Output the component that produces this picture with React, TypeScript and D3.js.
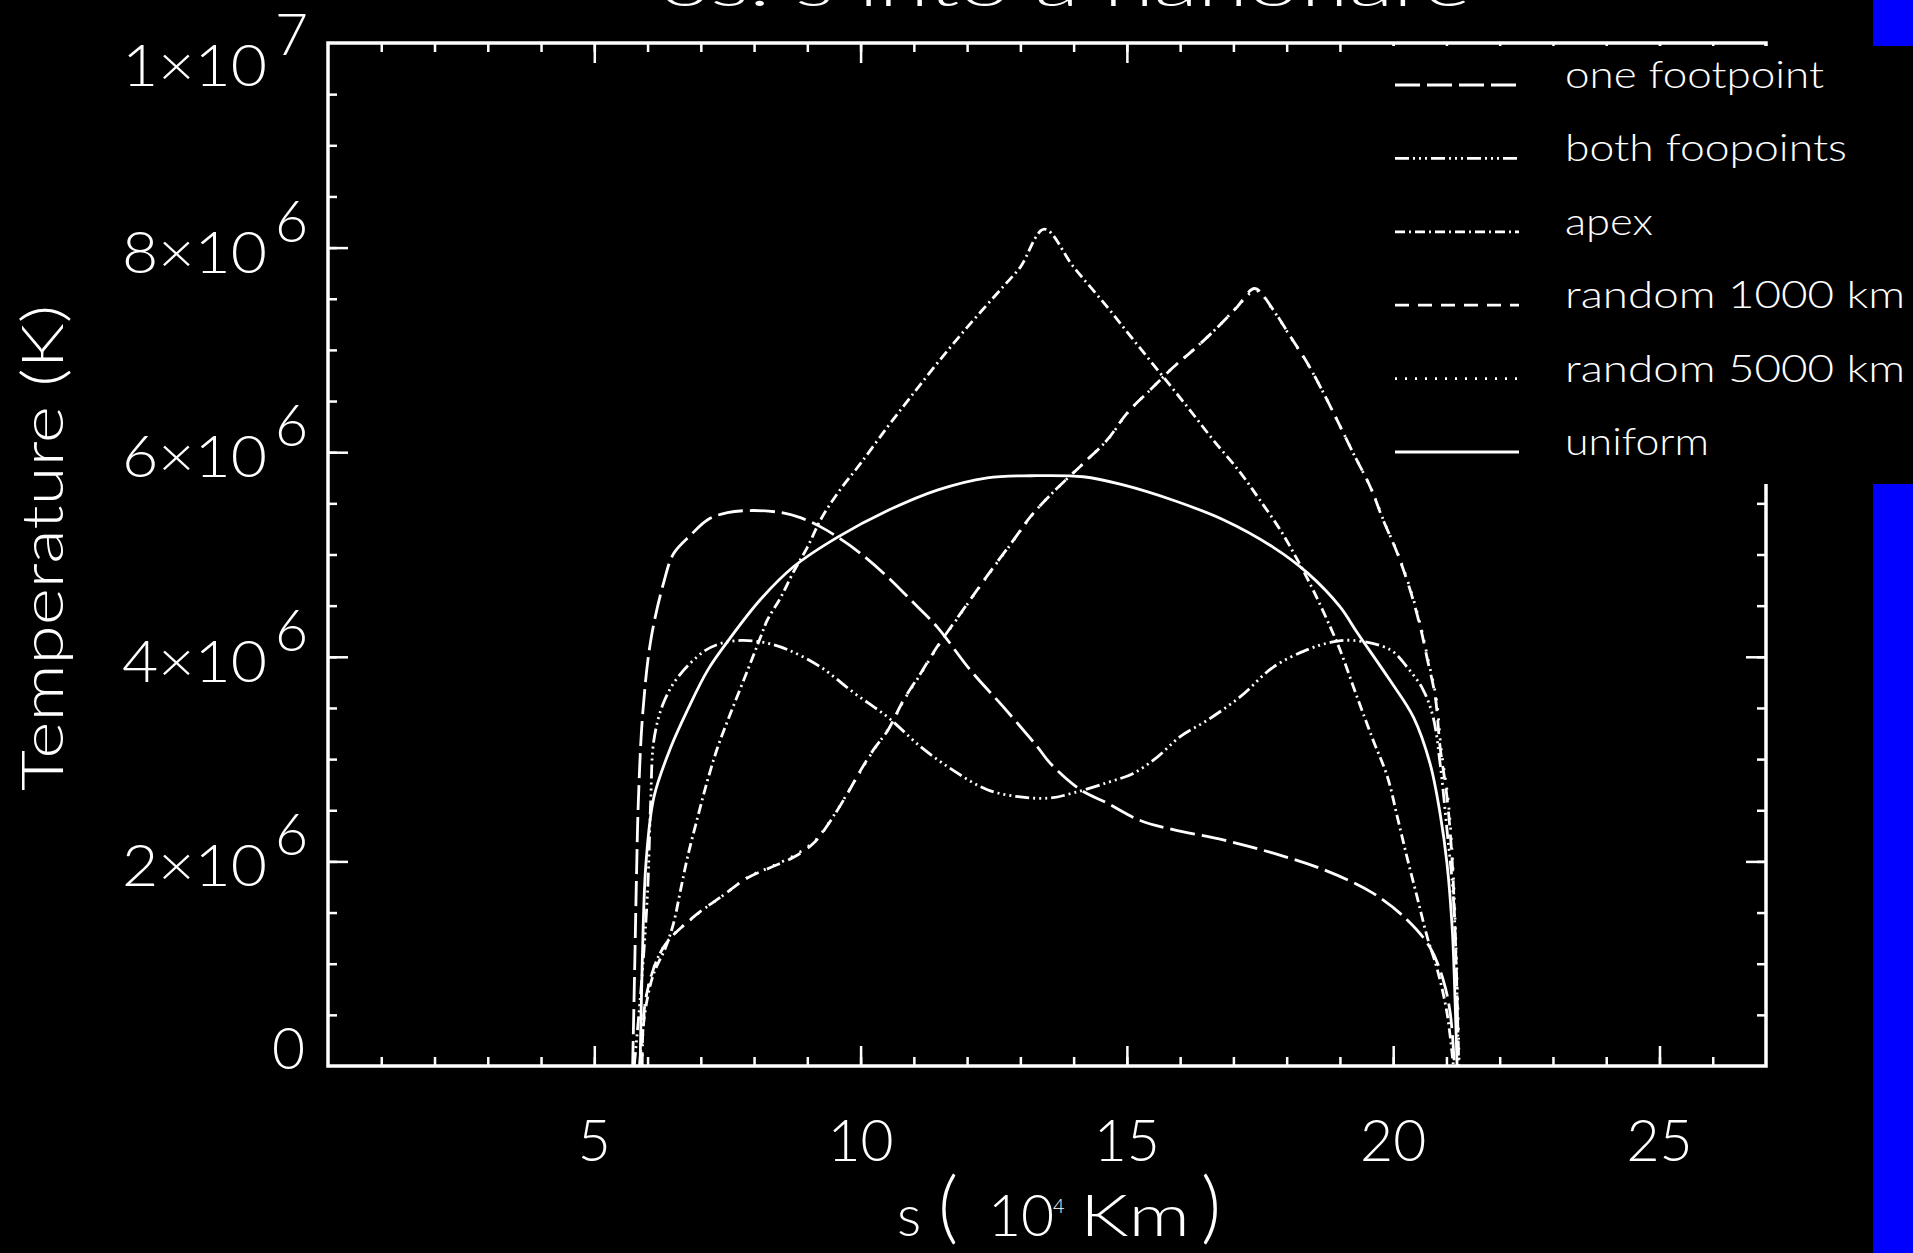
import React, { useRef, useEffect } from 'react';
import * as d3 from 'd3';

type Pt = [number, number];

// s in 10^4 km, T in 10^6 K
const titleText = 'os. s into a nanoflare';
const xMajorTicks = [5, 10, 15, 20, 25];
const xMinorTicks = d3.range(1, 27);
const yMajorTicks = [2, 4, 6, 8];
const yMinorTicks = d3.range(1, 20).map(i => i * 0.5);
const yTickValues = [0, 2, 4, 6, 8, 10];
const yTickLabels = ['0', '2×10^6', '4×10^6', '6×10^6', '8×10^6', '1×10^7'];
const legendLabels = ['one footpoint', 'both foopoints', 'apex', 'random 1000 km', 'random 5000 km', 'uniform'];

const oneFootpoint: Pt[] = [
  [5.72, 0], [5.76, 1.0], [5.79, 1.8], [5.83, 2.63], [5.91, 3.45], [6.06, 4.16], [6.3, 4.72],
  [6.49, 5.01], [6.81, 5.19], [7.13, 5.34], [7.5, 5.41], [7.99, 5.43], [8.5, 5.41], [8.87, 5.36],
  [9.25, 5.27], [9.57, 5.17], [10.0, 5.01], [10.51, 4.78], [10.99, 4.53], [11.44, 4.29],
  [12.06, 3.87], [12.68, 3.51], [13.32, 3.12], [13.56, 2.96], [14.13, 2.7], [14.63, 2.57],
  [15.25, 2.4], [15.87, 2.31], [16.81, 2.21], [17.75, 2.08], [18.69, 1.92], [19.62, 1.69],
  [20.26, 1.43], [20.69, 1.16], [20.94, 0.84], [21.07, 0.52], [21.15, 0]
];

const bothFootpoints: Pt[] = [
  [5.75, 0], [5.9, 0.9], [6.0, 1.7], [6.06, 2.6], [6.12, 3.19], [6.3, 3.55], [6.57, 3.8],
  [7.05, 4.05], [7.37, 4.13], [7.75, 4.16], [8.18, 4.14], [8.63, 4.07], [9.25, 3.9], [9.87, 3.65],
  [10.51, 3.41], [11.13, 3.12], [11.74, 2.89], [12.38, 2.7], [13.0, 2.63], [13.56, 2.62],
  [14.0, 2.67], [14.63, 2.77], [15.12, 2.86], [15.57, 3.02], [16.0, 3.22], [16.51, 3.38],
  [17.13, 3.61], [17.75, 3.9], [18.39, 4.07], [18.82, 4.14], [19.25, 4.16], [19.94, 4.07],
  [20.26, 3.9], [20.56, 3.68], [20.75, 3.41], [20.88, 2.96], [21.01, 2.31], [21.13, 1.65],
  [21.2, 0.67], [21.22, 0]
];

const apex: Pt[] = [
  [5.85, 0], [5.91, 0.35], [6.0, 0.67], [6.12, 0.91], [6.34, 1.16], [6.49, 1.4], [6.62, 1.72],
  [6.75, 2.04], [6.94, 2.43], [7.13, 2.8], [7.32, 3.12], [7.56, 3.45], [7.88, 3.87], [8.12, 4.19],
  [8.25, 4.36], [8.5, 4.58], [8.74, 4.83], [9.0, 5.07], [9.25, 5.34], [9.57, 5.6], [10.0, 5.89],
  [10.51, 6.25], [10.94, 6.54], [11.44, 6.87], [12.0, 7.22], [12.68, 7.62], [13.0, 7.81],
  [13.45, 8.18], [14.0, 7.81], [14.63, 7.42], [15.12, 7.1], [15.63, 6.77], [16.14, 6.44],
  [16.62, 6.12], [17.13, 5.8], [17.5, 5.53], [17.88, 5.24], [18.2, 4.95], [18.5, 4.65],
  [18.82, 4.29], [19.0, 4.07], [19.32, 3.61], [19.62, 3.19], [19.89, 2.83], [20.08, 2.43],
  [20.26, 2.04], [20.45, 1.65], [20.64, 1.26], [20.83, 0.94], [21.01, 0.52], [21.13, 0]
];

const random1000: Pt[] = [
  [5.9, 0], [5.97, 0.67], [6.3, 1.16], [6.87, 1.46], [7.37, 1.65], [7.88, 1.84], [8.31, 1.94],
  [8.74, 2.04], [9.12, 2.18], [9.44, 2.4], [9.76, 2.67], [10.0, 2.89], [10.24, 3.09], [10.51, 3.28],
  [10.81, 3.58], [11.13, 3.84], [11.44, 4.1], [11.75, 4.33], [12.06, 4.56], [12.5, 4.88],
  [12.87, 5.14], [13.19, 5.37], [13.56, 5.58], [14.18, 5.89], [14.63, 6.12], [15.0, 6.38],
  [15.44, 6.61], [15.87, 6.83], [16.25, 7.0], [16.7, 7.22], [17.07, 7.42], [17.4, 7.6],
  [17.75, 7.39], [18.07, 7.13], [18.39, 6.87], [18.69, 6.58], [18.95, 6.31], [19.25, 5.99],
  [19.57, 5.66], [19.81, 5.34], [20.08, 5.01], [20.32, 4.65], [20.51, 4.29], [20.64, 3.98],
  [20.79, 3.61], [20.88, 3.12], [21.01, 2.63], [21.11, 1.98], [21.16, 1.33], [21.2, 0.67], [21.23, 0]
];

const random5000: Pt[] = [
  [5.9, 0], [5.98, 0.7], [6.32, 1.18], [6.9, 1.47], [7.4, 1.66], [7.9, 1.85], [8.33, 1.95],
  [8.76, 2.06], [9.14, 2.2], [9.46, 2.42], [9.78, 2.69], [10.02, 2.9], [10.26, 3.1], [10.53, 3.3],
  [10.83, 3.59], [11.15, 3.85], [11.46, 4.11], [11.77, 4.34], [12.08, 4.57], [12.52, 4.89],
  [12.89, 5.15], [13.21, 5.38], [13.58, 5.59], [14.2, 5.9], [14.65, 6.13], [15.02, 6.39],
  [15.46, 6.62], [15.89, 6.84], [16.27, 7.01], [16.72, 7.23], [17.09, 7.43], [17.42, 7.58],
  [17.77, 7.37], [18.09, 7.11], [18.41, 6.85], [18.71, 6.56], [18.97, 6.29], [19.27, 5.97],
  [19.59, 5.64], [19.83, 5.32], [20.1, 4.99], [20.34, 4.63], [20.53, 4.27], [20.66, 3.96],
  [20.81, 3.59], [20.9, 3.1], [21.03, 2.61], [21.12, 1.96], [21.17, 1.31], [21.21, 0.66], [21.24, 0]
];

const uniform: Pt[] = [
  [5.86, 0], [5.9, 1.0], [5.97, 1.98], [6.12, 2.63], [6.44, 3.12], [6.75, 3.48], [7.13, 3.87],
  [7.56, 4.19], [8.12, 4.56], [8.74, 4.88], [9.57, 5.17], [10.51, 5.43], [11.44, 5.63],
  [12.38, 5.75], [13.2, 5.77], [14.18, 5.76], [14.93, 5.68], [15.87, 5.53], [16.81, 5.34],
  [17.75, 5.07], [18.39, 4.82], [19.0, 4.49], [19.32, 4.24], [19.94, 3.77], [20.38, 3.41],
  [20.69, 2.96], [20.88, 2.47], [21.01, 1.98], [21.11, 1.33], [21.16, 0.67], [21.2, 0]
];

const seriesData = [oneFootpoint, bothFootpoints, apex, random1000, random5000, uniform];
const seriesDash = ['25 7', '14 4 2 4 2 4 2 4', '10 4 2 4', '14 9', '2 8', null];

const FONT = "Lato, 'DejaVu Sans', sans-serif";

export default function App() {
  const svgRef = useRef<SVGSVGElement>(null);

  useEffect(() => {
    const width = 1913;
    const height = 1253;
    const svg = d3.select(svgRef.current);
    svg.selectAll('*').remove();
    svg.attr('width', width).attr('height', height);

    svg.append('rect').attr('width', width).attr('height', height).attr('fill', '#000');

    const left = 328, right = 1766, top = 43, bottom = 1066;
    const x = d3.scaleLinear().domain([0, 27]).range([left, right]);
    const y = d3.scaleLinear().domain([0, 10]).range([bottom, top]);

    const styleAxis = (g: any) => {
      g.select('.domain').remove();
      g.selectAll('line').attr('stroke', '#fff').attr('stroke-width', 2.5);
      g.selectAll('text').remove();
    };

    // ticks (inward)
    const addTicks = (axisFn: any, values: number[], size: number, transform: string) => {
      svg.append('g')
        .attr('transform', transform)
        .call(axisFn.tickValues(values).tickSize(-size).tickSizeOuter(0))
        .call(styleAxis);
    };
    addTicks(d3.axisBottom(x), xMinorTicks, 9, `translate(0,${bottom})`);
    addTicks(d3.axisBottom(x), xMajorTicks, 20, `translate(0,${bottom})`);
    addTicks(d3.axisTop(x), xMinorTicks, 9, `translate(0,${top})`);
    addTicks(d3.axisTop(x), xMajorTicks, 20, `translate(0,${top})`);
    addTicks(d3.axisLeft(y), yMinorTicks, 9, `translate(${left},0)`);
    addTicks(d3.axisLeft(y), yMajorTicks, 20, `translate(${left},0)`);
    addTicks(d3.axisRight(y), yMinorTicks, 9, `translate(${right},0)`);
    addTicks(d3.axisRight(y), yMajorTicks, 20, `translate(${right},0)`);

    // frame
    svg.append('rect')
      .attr('x', left).attr('y', top)
      .attr('width', right - left).attr('height', bottom - top)
      .attr('fill', 'none').attr('stroke', '#fff').attr('stroke-width', 3.5);

    // curves
    const line = d3.line<Pt>()
      .x(d => x(d[0]))
      .y(d => y(d[1]))
      .curve(d3.curveCatmullRom.alpha(0.5));

    const order = [4, 3, 2, 1, 0, 5];
    order.forEach(i => {
      svg.append('path')
        .attr('d', line(seriesData[i]))
        .attr('fill', 'none')
        .attr('stroke', '#fff')
        .attr('stroke-width', 2.8)
        .attr('stroke-dasharray', seriesDash[i])
        .attr('stroke-linecap', 'butt');
    });

    const text = (g: any, tx: number, ty: number, s: string, size: number, anchor = 'start') =>
      g.append('text')
        .attr('x', tx).attr('y', ty)
        .attr('fill', '#fff')
        .attr('font-family', FONT)
        .attr('font-weight', 300)
        .attr('font-size', size)
        .attr('text-anchor', anchor)
        .text(s);

    // x tick labels
    xMajorTicks.forEach(v => text(svg, x(v), 1161, String(v), 57, 'middle'));

    // y tick labels
    yTickValues.forEach((v, i) => {
      const [mant, exp] = yTickLabels[i].split('^');
      if (!exp) {
        text(svg, 305, y(v) + 3, mant, 57, 'end');
        return;
      }
      const off = v === 10 ? 43 : 25;
      text(svg, 267, y(v) + off, mant, 57, 'end').attr('textLength', 145).attr('lengthAdjust', 'spacingAndGlyphs');
      text(svg, 275, y(v) + off - 31, exp, 57);
    });

    // axis titles
    text(svg, 897, 1236, 's', 57);
    text(svg, 938, 1234, '(', 78);
    text(svg, 988, 1236, '10', 57);
    text(svg, 1053, 1213, '4', 20);
    text(svg, 1080, 1236, 'Km', 57).attr('textLength', 110).attr('lengthAdjust', 'spacingAndGlyphs');
    text(svg, 1201, 1234, ')', 78);

    text(svg, 0, 0, 'Temperature (K)', 57, 'middle')
      .attr('transform', 'translate(63,548) rotate(-90)')
      .attr('textLength', 486).attr('lengthAdjust', 'spacingAndGlyphs');

    // title, clipped at the top edge as in the original
    text(svg, 1065, 6, titleText, 57, 'middle')
      .attr('textLength', 811).attr('lengthAdjust', 'spacingAndGlyphs');

    // blue strip on the right
    svg.append('rect').attr('x', 1873).attr('y', 0).attr('width', 40).attr('height', 46).attr('fill', '#0000ff');
    svg.append('rect').attr('x', 1873).attr('y', 484).attr('width', 40).attr('height', 769).attr('fill', '#0000ff');

    // legend (opaque box)
    svg.append('rect').attr('x', 1380).attr('y', 46).attr('width', 533).attr('height', 438).attr('fill', '#000');
    const legendWidths = [259, 282, 88, 340, 340, 144];
    legendLabels.forEach((lab, i) => {
      const ly = 85 + i * 73.4;
      svg.append('line')
        .attr('x1', 1395).attr('x2', 1519)
        .attr('y1', ly).attr('y2', ly)
        .attr('stroke', '#fff')
        .attr('stroke-width', 2.8)
        .attr('stroke-dasharray', seriesDash[i]);
      text(svg, 1565, ly + 3, lab, 37)
        .attr('textLength', legendWidths[i]).attr('lengthAdjust', 'spacingAndGlyphs');
    });
  }, []);

  return (
    <div>
      <style>{'body{margin:0;background:#000;} svg{display:block;}'}</style>
      <svg ref={svgRef} />
    </div>
  );
}
